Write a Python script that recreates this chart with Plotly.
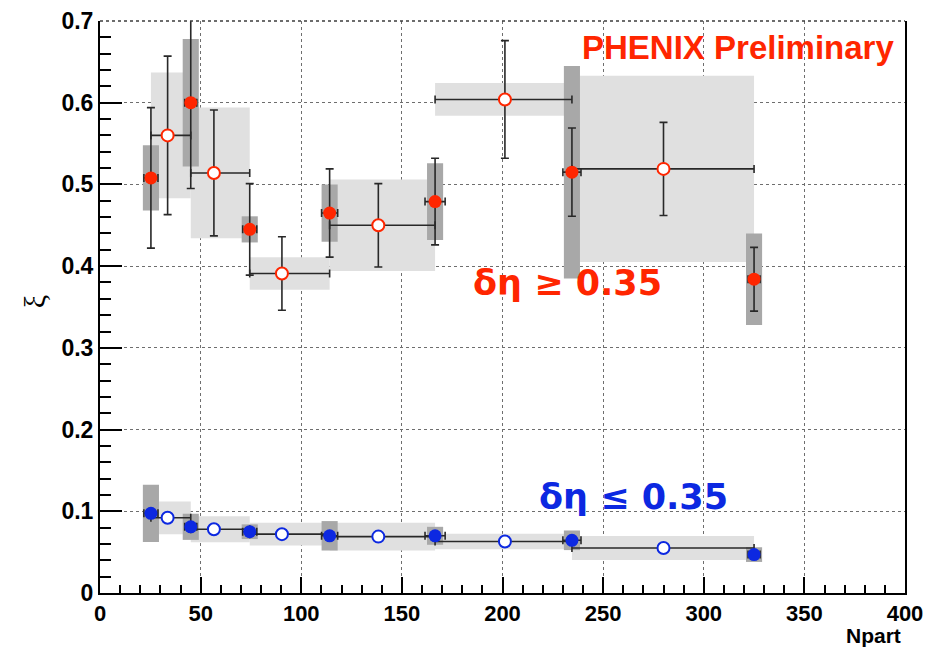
import plotly.graph_objects as go

# Npart of the narrow centrality classes (filled markers)
npart_full = [25.3, 45.1, 74.4, 114.1, 166.5, 234.5, 325.0]
npart_full_err = [3.5, 3.0, 3.5, 4.0, 5.0, 4.5, 3.0]
# Npart of the combined classes (open markers); their x range spans neighbouring classes
npart_open = [33.6, 56.6, 90.4, 138.3, 201.2, 280.0]

# xi for delta-eta >= 0.35
xi_hi_full = [0.508, 0.600, 0.445, 0.465, 0.479, 0.515, 0.384]
xi_hi_full_stat = [0.086, 0.105, 0.056, 0.054, 0.053, 0.054, 0.039]
xi_hi_full_sys = [0.040, 0.078, 0.016, 0.035, 0.047, 0.130, 0.056]
xi_hi_open = [0.560, 0.514, 0.391, 0.450, 0.604, 0.519]
xi_hi_open_stat = [0.097, 0.077, 0.045, 0.051, 0.072, 0.057]
xi_hi_open_sys = [0.077, 0.080, 0.020, 0.056, 0.020, 0.114]

# xi for delta-eta <= 0.35
xi_lo_full = [0.0975, 0.081, 0.075, 0.070, 0.070, 0.0645, 0.047]
xi_lo_full_stat = [0.003, 0.003, 0.003, 0.003, 0.003, 0.003, 0.003]
xi_lo_full_sys = [0.035, 0.016, 0.009, 0.018, 0.011, 0.012, 0.009]
xi_lo_open = [0.092, 0.078, 0.072, 0.069, 0.063, 0.055]
xi_lo_open_stat = [0.003, 0.003, 0.003, 0.003, 0.003, 0.003]
xi_lo_open_sys = [0.020, 0.016, 0.014, 0.017, 0.0096, 0.0147]

x_ticks = [0, 50, 100, 150, 200, 250, 300, 350, 400]
y_ticks = [0, 0.1, 0.2, 0.3, 0.4, 0.5, 0.6, 0.7]

RED = "rgb(255,38,0)"
BLUE = "rgb(12,40,225)"
LIGHT_BOX = "rgb(224,224,224)"
DARK_BOX = "rgb(168,168,168)"
BAR = "rgb(40,40,40)"
SYS_HALF_WIDTH = 4.0

bin_lo = npart_full[:-1]
bin_hi = npart_full[1:]

fig = go.Figure()
shapes = []

# systematic-uncertainty boxes: wide light boxes for the combined classes first,
# then the narrow dark boxes on top
for yv, sv in ((xi_hi_open, xi_hi_open_sys), (xi_lo_open, xi_lo_open_sys)):
    for lo, hi, y, s in zip(bin_lo, bin_hi, yv, sv):
        shapes.append(dict(type="rect", xref="x", yref="y", x0=lo, x1=hi,
                           y0=y - s, y1=y + s, fillcolor=LIGHT_BOX,
                           line=dict(width=0), layer="between"))
for yv, sv in ((xi_hi_full, xi_hi_full_sys), (xi_lo_full, xi_lo_full_sys)):
    for x, y, s in zip(npart_full, yv, sv):
        shapes.append(dict(type="rect", xref="x", yref="y",
                           x0=x - SYS_HALF_WIDTH, x1=x + SYS_HALF_WIDTH,
                           y0=y - s, y1=y + s, fillcolor=DARK_BOX,
                           line=dict(width=0), layer="between"))

x_plus = [h - x for h, x in zip(bin_hi, npart_open)]
x_minus = [x - l for l, x in zip(bin_lo, npart_open)]


def open_trace(yv, stat, color):
    return go.Scatter(
        x=npart_open, y=yv, mode="markers", showlegend=False,
        marker=dict(symbol="circle", size=12, color="white",
                    line=dict(color=color, width=2)),
        error_y=dict(type="data", array=stat, color=BAR, thickness=1.6, width=4),
        error_x=dict(type="data", array=x_plus, arrayminus=x_minus,
                     color=BAR, thickness=1.6, width=4),
    )


def full_trace(yv, stat, color):
    return go.Scatter(
        x=npart_full, y=yv, mode="markers", showlegend=False,
        marker=dict(symbol="circle", size=13, color=color, line=dict(width=0)),
        error_y=dict(type="data", array=stat, color=BAR, thickness=1.6, width=4),
        error_x=dict(type="data", array=npart_full_err, color=BAR,
                     thickness=1.6, width=4),
    )


fig.add_trace(open_trace(xi_lo_open, xi_lo_open_stat, BLUE))
fig.add_trace(full_trace(xi_lo_full, xi_lo_full_stat, BLUE))
fig.add_trace(open_trace(xi_hi_open, xi_hi_open_stat, RED))
fig.add_trace(full_trace(xi_hi_full, xi_hi_full_stat, RED))

# dotted line closing the frame at the top
shapes.append(dict(type="line", xref="paper", yref="paper", x0=0, x1=1, y0=1, y1=1,
                   line=dict(color="rgb(60,60,60)", width=1.5, dash="dot"),
                   layer="above"))

tick_font = dict(family="Liberation Sans, Arial, sans-serif", size=22,
                 color="black", weight="bold")

fig.update_layout(
    width=928, height=651,
    margin=dict(l=100, r=23, t=21, b=58),
    paper_bgcolor="white", plot_bgcolor="white",
    shapes=shapes,
    xaxis=dict(
        range=[0, 400], tickvals=x_ticks, ticktext=[str(v) for v in x_ticks],
        ticks="inside", ticklen=16, tickwidth=2, tickcolor="black",
        showline=True, linecolor="black", linewidth=2, mirror=False,
        showgrid=True, gridcolor="rgb(110,110,110)", gridwidth=1, griddash="dot",
        zeroline=False, tickfont=tick_font, automargin=False,
        minor=dict(dtick=10, tick0=0, ticks="inside", ticklen=8, tickwidth=2,
                   tickcolor="black", showgrid=False),
    ),
    yaxis=dict(
        range=[0, 0.7], tickvals=y_ticks, ticktext=[("%g" % v) for v in y_ticks],
        ticks="inside", ticklen=22, tickwidth=2, tickcolor="black",
        showline=True, linecolor="black", linewidth=2, mirror=True,
        showgrid=True, gridcolor="rgb(110,110,110)", gridwidth=1, griddash="dot",
        zeroline=False, tickfont=dict(tick_font, size=23), automargin=False,
        minor=dict(dtick=0.02, tick0=0, ticks="inside", ticklen=11, tickwidth=2,
                   tickcolor="black", showgrid=False),
    ),
    annotations=[
        dict(text="PHENIX Preliminary", xref="x", yref="y", x=395.5, y=0.668,
             xanchor="right", yanchor="middle", showarrow=False,
             font=dict(family="Liberation Sans, Arial, sans-serif", size=33,
                       color=RED, weight="bold")),
        dict(text="δη ≥ 0.35", xref="x", yref="y", x=184.3, y=0.379,
             xanchor="left", yanchor="middle", showarrow=False,
             font=dict(family="DejaVu Sans, sans-serif", size=35,
                       color=RED, weight="bold")),
        dict(text="δη ≤ 0.35", xref="x", yref="y", x=217.1, y=0.1175,
             xanchor="left", yanchor="middle", showarrow=False,
             font=dict(family="DejaVu Sans, sans-serif", size=35,
                       color=BLUE, weight="bold")),
        dict(text="ξ", xref="paper", yref="paper", x=-0.082, y=0.51,
             xanchor="center", yanchor="middle", showarrow=False, textangle=-90,
             font=dict(family="Liberation Serif, serif", size=30, color="black")),
        dict(text="Npart", xref="paper", yref="paper", x=0.998, y=-0.0985,
             xanchor="right", yanchor="bottom", showarrow=False,
             font=dict(family="Liberation Sans, Arial, sans-serif", size=21,
                       color="black", weight="bold")),
    ],
)

fig.write_html("out.html")
